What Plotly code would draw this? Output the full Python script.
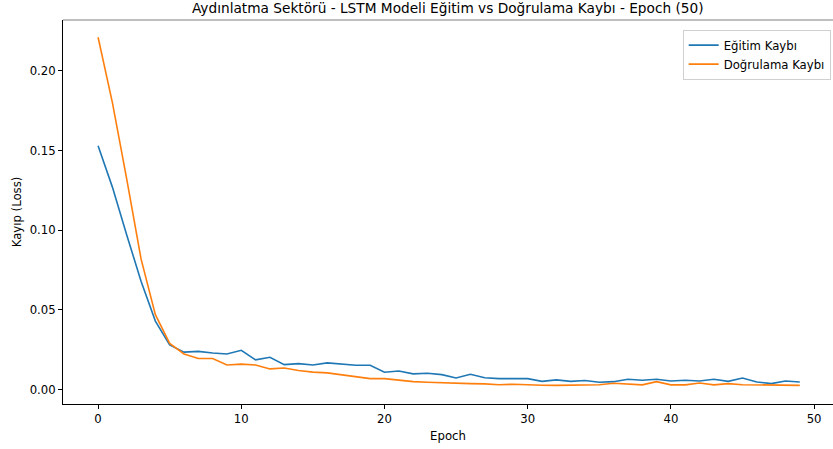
"""Aydinlatma sektoru LSTM egitim / dogrulama kaybi grafigi."""

import plotly.graph_objects as go


FONT = "DejaVu Sans"

epochs = list(range(50))

egitim_kaybi = [
    0.153, 0.127, 0.097, 0.068, 0.043, 0.028, 0.0235, 0.024, 0.023, 0.0224,
    0.0247, 0.0187, 0.0203, 0.0157, 0.0163, 0.0155, 0.0168, 0.016, 0.0153, 0.0153,
    0.0109, 0.0117, 0.0099, 0.0103, 0.0094, 0.0073, 0.0096, 0.0075, 0.0069, 0.0069,
    0.0069, 0.0052, 0.0061, 0.0052, 0.0057, 0.0046, 0.005, 0.0065, 0.0059, 0.0065,
    0.0054, 0.0059, 0.0054, 0.0065, 0.0052, 0.0073, 0.0048, 0.0038, 0.0054, 0.0048,
]

dogrulama_kaybi = [
    0.221, 0.18, 0.132, 0.082, 0.047, 0.029, 0.0224, 0.0195, 0.0195, 0.0155,
    0.016, 0.0155, 0.013, 0.0136, 0.012, 0.011, 0.0105, 0.0094, 0.008, 0.0069,
    0.0069, 0.0059, 0.005, 0.0046, 0.0042, 0.0038, 0.0038, 0.0036, 0.0031, 0.0034,
    0.003, 0.0028, 0.0027, 0.0027, 0.0031, 0.0031, 0.004, 0.0034, 0.003, 0.005,
    0.003, 0.003, 0.0042, 0.003, 0.0038, 0.0031, 0.003, 0.0025, 0.0027, 0.0027,
]

x_ticks = [0, 10, 20, 30, 40, 50]
y_ticks = [0.0, 0.05, 0.10, 0.15, 0.20]


def main():
    """Build and save the figure."""
    fig = go.Figure()
    fig.add_trace(go.Scatter(x=epochs, y=egitim_kaybi, mode="lines",
                             name="Eğitim Kaybı",
                             line=dict(color="#1f77b4", width=1.6)))
    fig.add_trace(go.Scatter(x=epochs, y=dogrulama_kaybi, mode="lines",
                             name="Doğrulama Kaybı",
                             line=dict(color="#ff7f0e", width=1.6)))

    axis = dict(showline=True, mirror=False, linecolor="black", linewidth=1,
                ticks="outside", ticklen=4, tickcolor="black", showgrid=False,
                zeroline=False, tickfont=dict(family=FONT, size=11.7, color="black"))

    # the right edge of the axes box falls just outside the picture
    fig.update_xaxes(axis, range=[-2.45, 51.32], tickvals=x_ticks,
                     title=dict(text="Epoch", font=dict(family=FONT, size=11.7),
                                standoff=6))
    fig.update_yaxes(axis, range=[-0.009, 0.2318], tickvals=y_ticks,
                     tickformat=".2f",
                     title=dict(text="Kayıp (Loss)", font=dict(family=FONT, size=11.7),
                                standoff=5))

    # top edge of the box shows up grey in the reference
    fig.add_shape(type="line", xref="paper", yref="paper", x0=0, x1=1, y0=1, y1=1,
                  line=dict(color="#808080", width=1.2))

    fig.update_layout(
        width=833, height=449,
        margin=dict(l=63, r=0, t=20, b=45),
        paper_bgcolor="white", plot_bgcolor="white",
        font=dict(family=FONT, color="black"),
        title=dict(text="Aydınlatma Sektörü - LSTM Modeli Eğitim vs Doğrulama Kaybı - Epoch (50)",
                   x=0.5375, xanchor="center", y=0.982, yanchor="middle",
                   font=dict(family=FONT, size=13.7)),
        legend=dict(x=0.997, xanchor="right", y=0.975, yanchor="top",
                    bgcolor="white", bordercolor="#d0d0d0", borderwidth=1,
                    itemwidth=30, font=dict(family=FONT, size=11.7)),
    )

    # no default page margin, so the chart sits at the window's corner
    fig.write_html("out.html", config={"displayModeBar": False},
                   post_script="document.body.style.margin = '0';")


if __name__ == "__main__":
    main()
